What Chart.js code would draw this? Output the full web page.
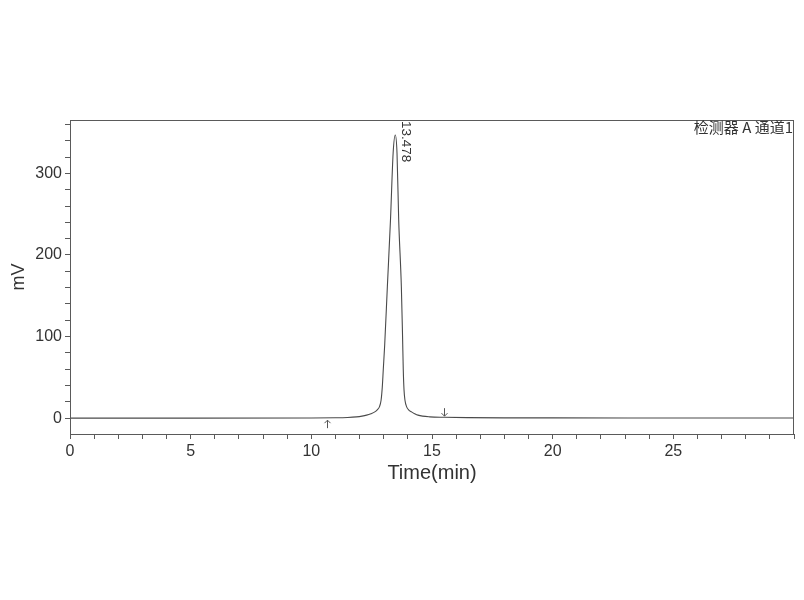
<!DOCTYPE html>
<html><head><meta charset="utf-8">
<script src="https://cdn.jsdelivr.net/npm/chart.js@4/dist/chart.umd.min.js"></script>
<style>html,body{margin:0;padding:0;background:#fff;}</style>
</head><body>
<canvas id="c" width="804" height="600"></canvas>
<script>
// Retention time (min) and detector signal (mV)
const times  = [0, 5, 10, 11.0, 11.5, 11.87, 12.1, 12.29, 12.47, 12.63, 12.74, 12.82, 12.89, 12.94, 12.98, 13.04, 13.15, 13.28, 13.39, 13.478, 13.55, 13.62, 13.73, 13.78, 13.81, 13.84, 13.88, 13.95, 14.04, 14.15, 14.28, 14.42, 14.91, 15.5, 16.5, 18, 20, 25, 30];
const signal = [0, 0, 0.2, 0.5, 0.9, 1.6, 2.5, 3.7, 5.5, 7.7, 10.5, 13.9, 22, 38, 59, 90, 161, 243, 325, 347, 325, 243, 161, 100, 59, 35, 22, 13.9, 10, 7.7, 5.5, 3.7, 1.6, 1.1, 0.7, 0.4, 0.3, 0.2, 0.2];
const xTickLabels = [0, 5, 10, 15, 20, 25];
const yTickLabels = [0, 100, 200, 300];
const peakTimes  = [13.478];
const peakLabels = ['13.478'];
const markerTimes = [10.66, 15.49];
const markerDirs  = ['up', 'down'];
const channelLabel = '检测器 A 通道1';

const axisColor = '#5a5a5a';
const textColor = '#333333';

const annotPlugin = {
  id: 'annot',
  afterDraw(chart) {
    const ctx = chart.ctx, a = chart.chartArea;
    const xs = chart.scales.x, ys = chart.scales.y;
    ctx.save();
    // frame
    ctx.strokeStyle = axisColor; ctx.lineWidth = 1;
    ctx.strokeRect(Math.round(a.left) + 0.5, Math.round(a.top) + 0.5, Math.round(a.right - a.left) - 1, Math.round(a.bottom - a.top));
    // channel label
    ctx.fillStyle = textColor;
    ctx.font = '15px "Noto Sans CJK SC", "Liberation Sans", sans-serif';
    ctx.textAlign = 'right'; ctx.textBaseline = 'middle';
    ctx.fillText(channelLabel, a.right - 1, a.top + 7);
    // peak labels
    ctx.font = '13.5px "Liberation Sans", Arial, sans-serif';
    peakTimes.forEach((t, i) => {
      let best = 0;
      times.forEach((tt, j) => { if (Math.abs(tt - t) < 0.3) best = Math.max(best, signal[j]); });
      const px = xs.getPixelForValue(t), py = ys.getPixelForValue(best);
      ctx.save();
      ctx.translate(px + 10, py - 14);
      ctx.rotate(Math.PI / 2);
      ctx.textAlign = 'left'; ctx.textBaseline = 'middle';
      ctx.fillText(peakLabels[i], 0, 0);
      ctx.restore();
    });
    // start/end markers
    ctx.strokeStyle = '#555'; ctx.lineWidth = 1;
    const y0 = ys.getPixelForValue(0);
    markerTimes.forEach((t, i) => {
      const px = Math.round(xs.getPixelForValue(t)) + 0.5;
      let tip, tail;
      if (markerDirs[i] === 'up') { tip = y0 + 2; tail = y0 + 10; }
      else { tip = y0 - 2; tail = y0 - 10; }
      const d = markerDirs[i] === 'up' ? 3 : -3;
      ctx.beginPath();
      ctx.moveTo(px, tail); ctx.lineTo(px, tip);
      ctx.moveTo(px - 3, tip + d); ctx.lineTo(px, tip); ctx.lineTo(px + 3, tip + d);
      ctx.stroke();
    });
    ctx.restore();
  }
};

new Chart(document.getElementById('c'), {
  type: 'line',
  data: {
    datasets: [{
      data: times.map((t, i) => ({ x: t, y: signal[i] })),
      borderColor: '#4a4a4a',
      borderWidth: 1.1,
      pointRadius: 0,
      fill: false,
      cubicInterpolationMode: 'monotone'
    }]
  },
  options: {
    responsive: false,
    animation: false,
    devicePixelRatio: 1,
    layout: { padding: { top: 120, right: 10, bottom: 114, left: 0 } },
    plugins: { legend: { display: false }, tooltip: { enabled: false } },
    scales: {
      x: {
        type: 'linear', min: 0, max: 30,
        afterFit: s => { s.height = 52; },
        border: { display: true, color: axisColor, width: 1 },
        grid: { display: true, drawOnChartArea: false, drawTicks: true, tickLength: 5, color: axisColor },
        ticks: {
          stepSize: 1, autoSkip: false, maxRotation: 0, padding: 3,
          color: textColor, font: { family: '"Liberation Sans", Arial, sans-serif', size: 16 },
          callback: v => xTickLabels.includes(v) ? String(v) : ''
        },
        title: { display: true, text: 'Time(min)', color: textColor, padding: { top: 0, bottom: 1 },
          font: { family: '"Liberation Sans", Arial, sans-serif', size: 20 } }
      },
      y: {
        type: 'linear', min: -19.4, max: 365.4,
        afterFit: s => { s.width = 70; },
        afterBuildTicks: s => {
          const out = [];
          for (let v = Math.ceil(s.min / 20) * 20; v <= s.max; v += 20) out.push({ value: v });
          s.ticks = out;
        },
        border: { display: true, color: axisColor, width: 1 },
        grid: { display: true, drawOnChartArea: false, drawTicks: true, tickLength: 5, color: axisColor },
        ticks: {
          stepSize: 20, autoSkip: false, padding: 3,
          color: textColor, font: { family: '"Liberation Sans", Arial, sans-serif', size: 16 },
          callback: v => yTickLabels.includes(v) ? String(v) : ''
        },
        title: { display: true, text: 'mV', color: textColor, padding: { top: 8, bottom: 0 },
          font: { family: '"Liberation Sans", Arial, sans-serif', size: 18 } }
      }
    }
  },
  plugins: [annotPlugin]
});
</script>
</body></html>
